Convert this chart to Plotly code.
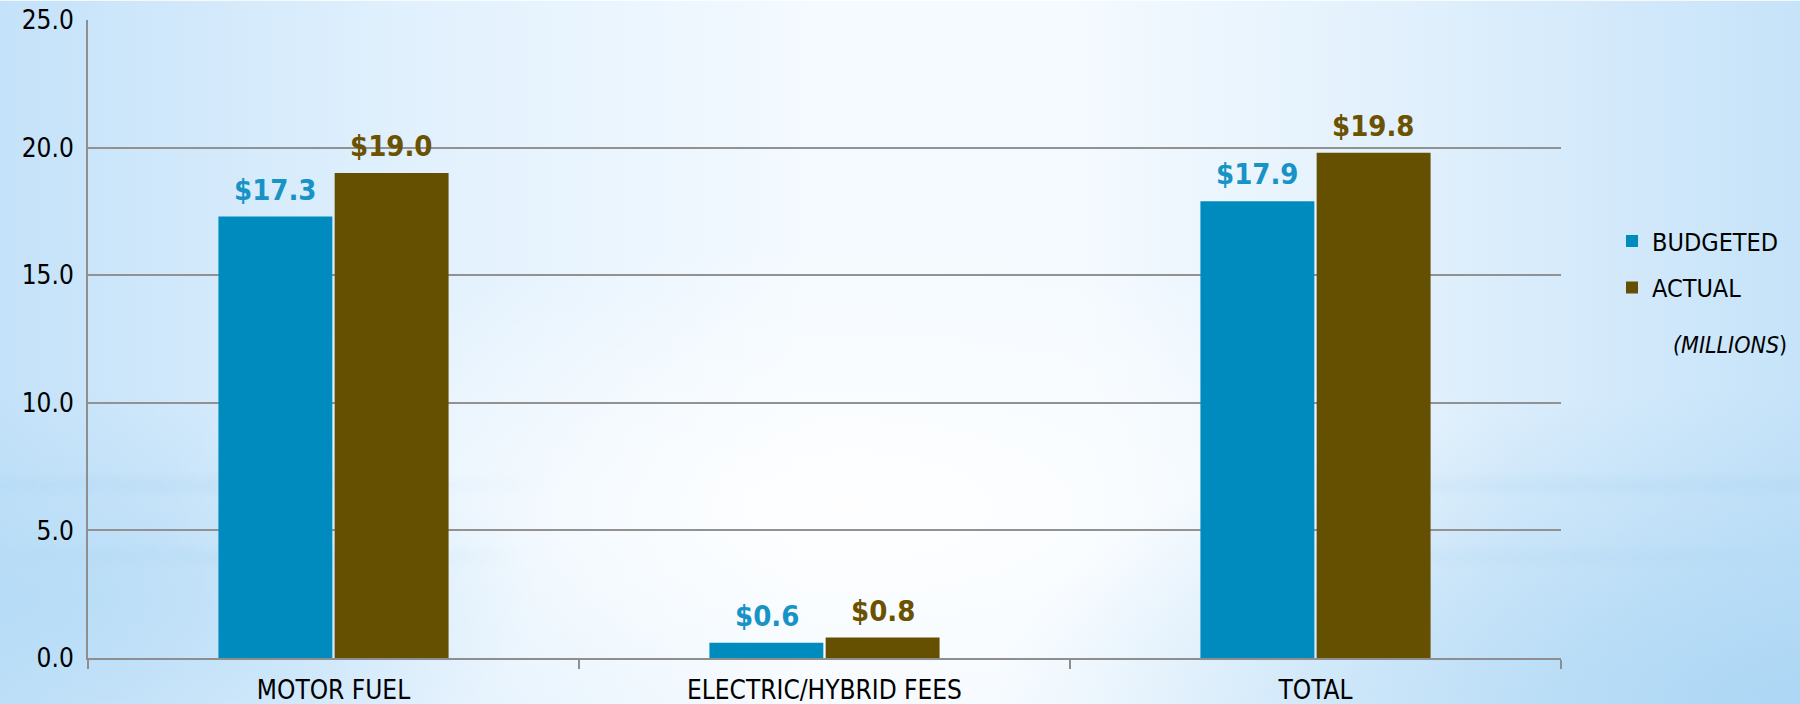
import base64
import plotly.graph_objects as go

categories = ["MOTOR FUEL", "ELECTRIC/HYBRID FEES", "TOTAL"]
budgeted = [17.3, 0.6, 17.9]
actual = [19.0, 0.8, 19.8]
series_names = ["BUDGETED", "ACTUAL"]
y_ticks = [0, 5, 10, 15, 20, 25]
y_tick_labels = ["0.0", "5.0", "10.0", "15.0", "20.0", "25.0"]
unit_note = "<i>(MILLIONS</i>)"

BAR_COLORS = ["#008bbe", "#654f00"]
LABEL_COLORS = ["#1793c6", "#6a5200"]
FONT = "DejaVu Sans Condensed, DejaVu Sans, sans-serif"
W, H = 1800, 704
L, R, T, B = 88, 239, 19.5, 46
PW, PH = W - L - R, H - T - B

svg = f"""<svg xmlns="http://www.w3.org/2000/svg" width="{W}" height="{H}" viewBox="0 0 {W} {H}" preserveAspectRatio="none">
<defs>
<linearGradient id="lin" x1="0" y1="0" x2="1" y2="0">
<stop offset="0" stop-color="#c4e2f9"/>
<stop offset="0.22" stop-color="#e0f0fd"/>
<stop offset="0.45" stop-color="#f4faff"/>
<stop offset="0.6" stop-color="#f4faff"/>
<stop offset="0.8" stop-color="#dfeffc"/>
<stop offset="1" stop-color="#c6e3f9"/>
</linearGradient>
<radialGradient id="wc" cx="0.47" cy="0.72" r="0.38">
<stop offset="0" stop-color="#ffffff" stop-opacity="0.9"/>
<stop offset="0.6" stop-color="#ffffff" stop-opacity="0.35"/>
<stop offset="1" stop-color="#ffffff" stop-opacity="0"/>
</radialGradient>
<radialGradient id="br" cx="1" cy="1" r="0.45">
<stop offset="0" stop-color="#a9d5f4" stop-opacity="0.9"/>
<stop offset="1" stop-color="#a9d5f4" stop-opacity="0"/>
</radialGradient>
<radialGradient id="bl" cx="0" cy="0.85" r="0.3">
<stop offset="0" stop-color="#b3daf6" stop-opacity="0.8"/>
<stop offset="1" stop-color="#b3daf6" stop-opacity="0"/>
</radialGradient>
<linearGradient id="h" x1="0" y1="0" x2="1" y2="0">
<stop offset="0" stop-color="#b6dbf5" stop-opacity="0.6"/>
<stop offset="0.3" stop-color="#b6dbf5" stop-opacity="0.0"/>
<stop offset="0.72" stop-color="#b6dbf5" stop-opacity="0.0"/>
<stop offset="1" stop-color="#b6dbf5" stop-opacity="0.65"/>
</linearGradient>
<linearGradient id="v" x1="0" y1="0" x2="0" y2="1">
<stop offset="0" stop-color="white" stop-opacity="0"/>
<stop offset="0.5" stop-color="white" stop-opacity="1"/>
<stop offset="1" stop-color="white" stop-opacity="0"/>
</linearGradient>
<mask id="m"><rect x="0" y="0" width="{W}" height="26" fill="url(#v)"/></mask>
</defs>
<rect x="0" y="0" width="{W}" height="{H}" fill="url(#lin)"/>
<rect x="0" y="0" width="{W}" height="{H}" fill="url(#wc)"/>
<rect x="0" y="0" width="{W}" height="{H}" fill="url(#br)"/>
<rect x="0" y="0" width="{W}" height="{H}" fill="url(#bl)"/>
<g transform="translate(0,472)"><rect x="0" y="0" width="{W}" height="26" fill="url(#h)" mask="url(#m)"/></g>
<g transform="translate(0,544)"><rect x="0" y="0" width="{W}" height="26" fill="url(#h)" mask="url(#m)"/></g>
</svg>"""
bg_src = "data:image/svg+xml;base64," + base64.b64encode(svg.encode()).decode()

fig = go.Figure()
for name, vals, col in zip(series_names, [budgeted, actual], BAR_COLORS):
    fig.add_trace(go.Bar(
        x=categories, y=vals, name=name, marker=dict(color=col, line=dict(width=0)),
        legendgroup=name, hoverinfo="skip",
    ))

annotations = []
for si, (vals, col) in enumerate(zip([budgeted, actual], LABEL_COLORS)):
    shift = -58 if si == 0 else 58
    for c, v in zip(categories, vals):
        annotations.append(dict(
            x=c, y=v, xref="x", yref="y", text=f"${v:.1f}", showarrow=False,
            xanchor="center", yanchor="bottom", xshift=shift, yshift=8,
            font=dict(family=FONT, size=29, color=col, weight="bold"),
        ))
annotations.append(dict(
    x=(1730 - L) / PW, y=(H - B - 345) / PH, xref="paper", yref="paper",
    text=unit_note, showarrow=False, xanchor="center", yanchor="middle",
    font=dict(family=FONT, size=23, color="#000000"),
))

fig.update_layout(
    width=W, height=H,
    margin=dict(l=L, r=R, t=T, b=B, pad=0, autoexpand=False),
    paper_bgcolor="rgba(0,0,0,0)", plot_bgcolor="rgba(0,0,0,0)",
    barmode="group", bargap=0.5265, bargroupgap=0.02,
    font=dict(family=FONT, size=25, color="#000000"),
    showlegend=True,
    legend=dict(x=(1612 - L) / PW, xanchor="left", y=(H - B - 218) / PH, yanchor="top",
                bgcolor="rgba(0,0,0,0)", font=dict(family=FONT, size=25, color="#000000"),
                tracegroupgap=11, itemclick=False),
    annotations=annotations,
    images=[dict(source=bg_src, xref="paper", yref="paper",
                 x=-L / PW, y=1 + T / PH, sizex=W / PW, sizey=H / PH,
                 xanchor="left", yanchor="top", sizing="stretch", layer="below")],
    xaxis=dict(type="category", showgrid=False, showline=True, linecolor="#8e8e8e", linewidth=2,
               ticks="outside", tickson="boundaries", ticklen=9, tickwidth=2, tickcolor="#8e8e8e",
               ticklabelstandoff=8, tickfont=dict(family=FONT, size=26, color="#000000"),
               fixedrange=True, automargin=False),
    yaxis=dict(range=[0, 25], tickvals=y_ticks, ticktext=y_tick_labels,
               showgrid=True, gridcolor="#929292", gridwidth=2,
               showline=True, linecolor="#8e8e8e", linewidth=2, ticks="",
               zeroline=False, ticklabelstandoff=7,
               tickfont=dict(family=FONT, size=26, color="#000000"), fixedrange=True,
               automargin=False),
)

fig.write_html("out.html", config={"displayModeBar": False},
               post_script="document.body.style.margin='0';document.body.style.overflow='hidden';")
